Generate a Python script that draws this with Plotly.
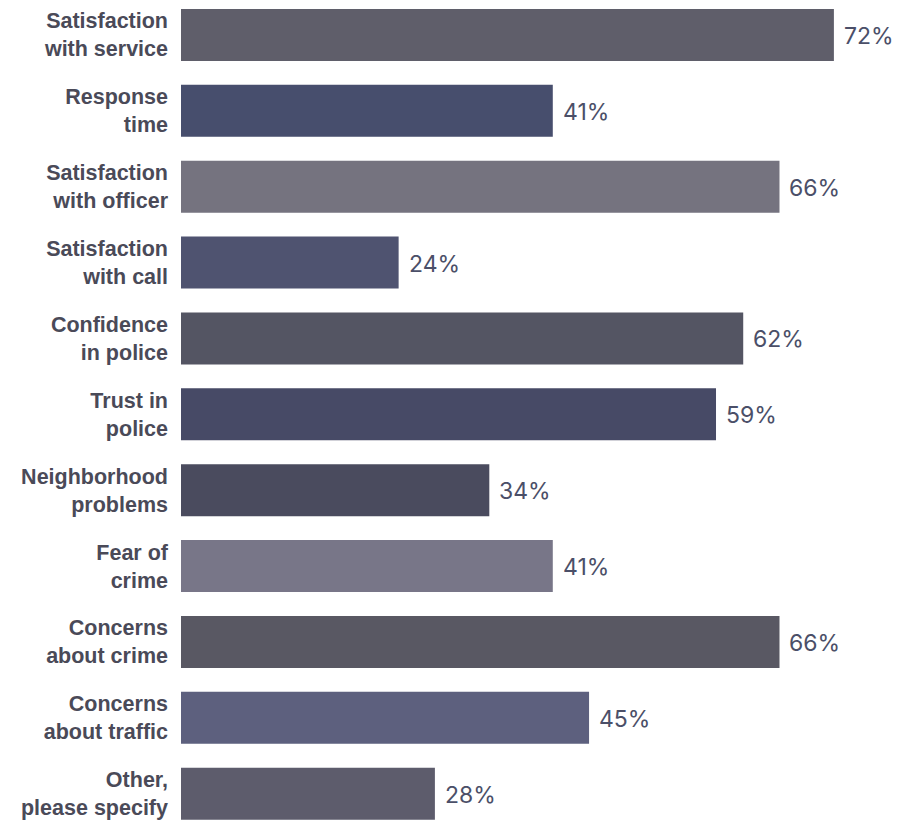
import plotly.graph_objects as go

categories = [
    "Satisfaction<br>with service",
    "Response<br>time",
    "Satisfaction<br>with officer",
    "Satisfaction<br>with call",
    "Confidence<br>in police",
    "Trust in<br>police",
    "Neighborhood<br>problems",
    "Fear of<br>crime",
    "Concerns<br>about crime",
    "Concerns<br>about traffic",
    "Other,<br>please specify",
]
values = [72, 41, 66, 24, 62, 59, 34, 41, 66, 45, 28]
bar_colors = [
    "#5f5e6a", "#474e6d", "#75737f", "#4f5370", "#545563", "#474a66",
    "#4a4b5e", "#787688", "#595863", "#5d607e", "#5d5c6c",
]
value_labels = [f"{v}%" for v in values]

fig = go.Figure(
    go.Bar(
        x=values,
        y=categories,
        orientation="h",
        marker=dict(color=bar_colors, line=dict(width=0)),
        hoverinfo="skip",
    )
)

for c, v, t in zip(categories, values, value_labels):
    fig.add_annotation(
        x=v, y=c, text=t, showarrow=False, xanchor="left", yanchor="middle",
        xshift=8, yshift=-1,
        font=dict(family="Inter, Roboto, sans-serif", size=23, color="#4b4f68"),
    )

fig.update_layout(
    width=901, height=821,
    margin=dict(l=181, r=0, t=0, b=0),
    plot_bgcolor="white", paper_bgcolor="white",
    bargap=0.315,
    showlegend=False,
    xaxis=dict(range=[0, 79.4], visible=False, fixedrange=True),
    yaxis=dict(
        range=[10.36, -0.46], showgrid=False, zeroline=False, showline=False,
        ticks="", ticklabelstandoff=12,
        tickfont=dict(family="Liberation Sans, Arial, sans-serif", size=21.5, color="#4a4a58"),
        automargin=False,
    ),
)
fig.update_yaxes(tickfont_weight="bold")

fig.write_html("out.html")
